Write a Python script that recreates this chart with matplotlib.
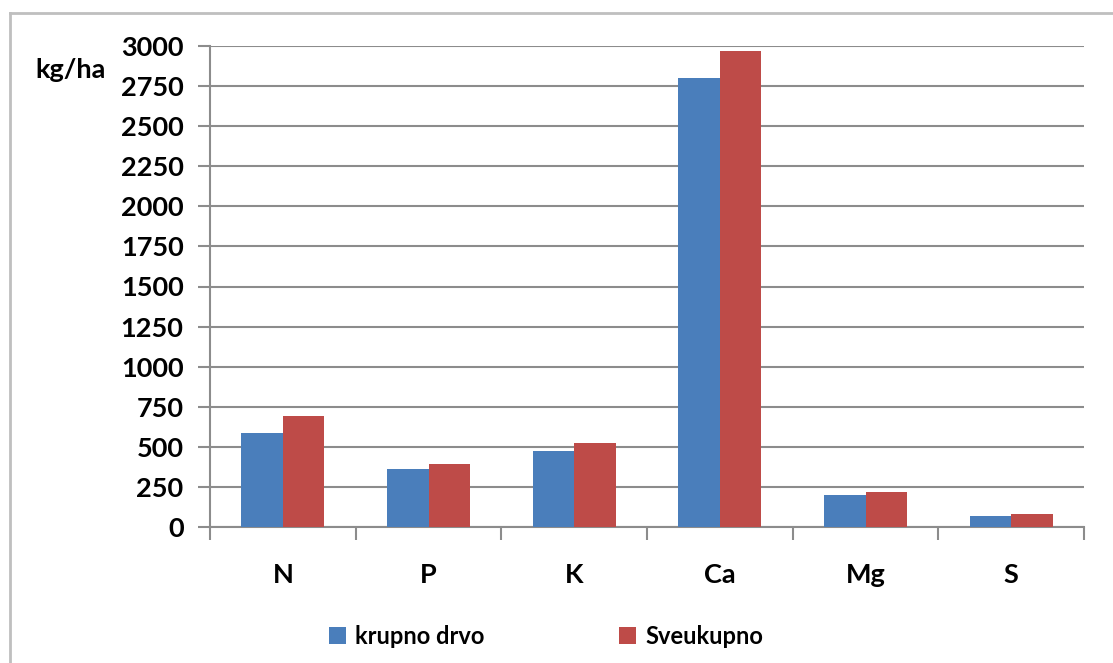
import matplotlib
matplotlib.use("Agg")
import matplotlib.pyplot as plt
from matplotlib.lines import Line2D
from matplotlib.patches import Patch
import numpy as np

categories = ["N", "P", "K", "Ca", "Mg", "S"]
krupno_drvo = [587, 359, 473, 2800, 198, 69]
sveukupno = [692, 396, 521, 2970, 219, 83]
yticks = [0, 250, 500, 750, 1000, 1250, 1500, 1750, 2000, 2250, 2500, 2750, 3000]
series_names = ["krupno drvo", "Sveukupno"]

blue = "#4A7EBB"
red = "#BE4B48"
grid_c = "#8C8C8C"
FONT = "Lato"

fig = plt.figure(figsize=(11.13, 6.63), dpi=100)
fig.patch.set_facecolor("white")
# outer chart border (only top and left visible in the reference)
bx, by = 10/1113, 1 - 13/663
fig.add_artist(Line2D([bx, 1.0], [by, by], transform=fig.transFigure, color="#BFBFBF", linewidth=2))
fig.add_artist(Line2D([bx, bx], [0.0, by], transform=fig.transFigure, color="#BFBFBF", linewidth=2))

ax = fig.add_axes([210/1113, 136/663, 874/1113, 481/663])
x = np.arange(len(categories))
w = 0.286
ax.bar(x - w/2, krupno_drvo, width=w, color=blue, zorder=3)
ax.bar(x + w/2, sveukupno, width=w, color=red, zorder=3)

ax.set_xlim(-0.5, len(categories) - 0.5)
ax.set_ylim(0, 3000)
ax.set_yticks(yticks)
ax.set_yticklabels([str(v) for v in yticks], fontfamily=FONT, fontweight="bold", fontsize=19.5)
ax.yaxis.grid(True, color=grid_c, linewidth=1.5, zorder=0)
ax.set_axisbelow(True)

ax.set_xticks(x)
ax.set_xticklabels(categories, fontfamily=FONT, fontweight="bold", fontsize=19.5)
ax.tick_params(axis="x", length=0, pad=26)
ax.set_xticks(np.arange(-0.5, len(categories)), minor=True)
ax.tick_params(axis="x", which="minor", length=9, width=1.5, color=grid_c, direction="out")
ax.tick_params(axis="y", length=9, width=1.5, color=grid_c, direction="out", pad=10)

for s in ["top", "right"]:
    ax.spines[s].set_visible(False)
for s in ["left", "bottom"]:
    ax.spines[s].set_color(grid_c)
    ax.spines[s].set_linewidth(1.5)

fig.text(35/1113, 1 - 70/663, "kg/ha", fontfamily=FONT, fontweight="bold", fontsize=19.5,
         ha="left", va="center")

handles = [Patch(facecolor=blue), Patch(facecolor=red)]
leg = fig.legend(handles, series_names, loc="center", bbox_to_anchor=(546/1113, 1 - 636/663),
                 ncol=2, frameon=False, columnspacing=5.7, handlelength=0.7, handleheight=0.7,
                 handletextpad=0.4, prop={"family": FONT, "weight": "bold", "size": 17})

fig.savefig("out.png", dpi=100, facecolor="white")
